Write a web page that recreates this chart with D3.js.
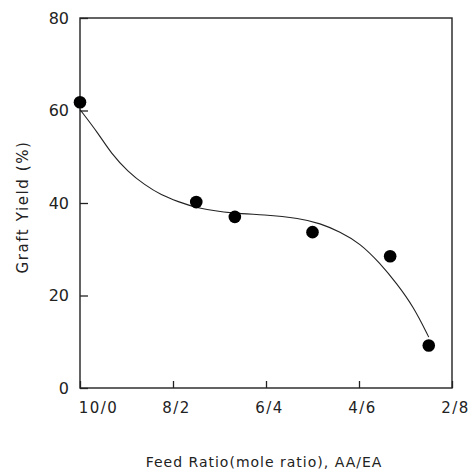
<!DOCTYPE html>
<html>
<head>
<meta charset="utf-8">
<script src="https://cdn.jsdelivr.net/npm/d3@7"></script>
<style>
    body { margin: 0; background: #fff; }
    svg text { font-family: "DejaVu Sans", sans-serif; fill: #222; }
</style>
</head>
<body>
<div id="chart"></div>
<script>
// Measured points: AA mole parts (of 10) and graft yield (%)
const feedAA = [10, 7.5, 6.67, 5, 3.33, 2.5];
const graftYield = [61.8, 40.2, 37.0, 33.7, 28.5, 9.2];

// Fitted curve
const curveAA = [10, 9.61, 9.33, 8.97, 8.61, 8.25, 7.89, 7.5, 6.68, 6.06, 5.27, 4.84, 4.41, 3.98, 3.55, 3.19, 2.83, 2.5];
const curveYield = [60.2, 55.1, 50.7, 46.8, 43.9, 41.7, 40.3, 38.9, 37.7, 37.5, 36.7, 35.6, 33.8, 31.3, 27.0, 22.6, 17.6, 11.0];

// Axis ticks
const xTicks = [10, 8, 6, 4, 2];
const xTickLabels = ['10/0', '8/2', '6/4', '4/6', '2/8'];
const yTicks = [0, 20, 40, 60, 80];

const width = 469, height = 472;
const margin = { top: 18, right: 17, bottom: 84, left: 80 };
const innerW = width - margin.left - margin.right;
const innerH = height - margin.top - margin.bottom;

const svg = d3.select('#chart').append('svg')
    .attr('width', width)
    .attr('height', height);

const g = svg.append('g')
    .attr('transform', `translate(${margin.left},${margin.top})`);

const xScale = d3.scaleLinear().domain([10, 2]).range([0, innerW]);
const yScale = d3.scaleLinear().domain([0, 80]).range([innerH, 0]);

// Frame
g.append('rect')
    .attr('x', 0).attr('y', 0)
    .attr('width', innerW).attr('height', innerH)
    .attr('fill', 'none')
    .attr('stroke', '#222')
    .attr('stroke-width', 1.4);

// Bottom axis, ticks pointing inward
const xAxis = g.append('g')
    .attr('transform', `translate(0,${innerH})`)
    .call(d3.axisBottom(xScale)
        .tickValues(xTicks)
        .tickSizeInner(-7)
        .tickSizeOuter(0)
        .tickPadding(14)
        .tickFormat((d, i) => xTickLabels[i]));
xAxis.select('.domain').remove();
xAxis.selectAll('line').attr('stroke', '#222').attr('stroke-width', 1.3);
xAxis.selectAll('text')
    .attr('font-size', 15)
    .attr('dx', (d, i) => i === 0 ? 18 : 3)
    .style('letter-spacing', '1.5px');

// Left axis, ticks pointing inward
const yAxis = g.append('g')
    .call(d3.axisLeft(yScale)
        .tickValues(yTicks)
        .tickSizeInner(-8)
        .tickSizeOuter(0)
        .tickPadding(10));
yAxis.select('.domain').remove();
yAxis.selectAll('line').attr('stroke', '#222').attr('stroke-width', 1.3);
yAxis.selectAll('text').attr('font-size', 16).attr('dx', -1);

// Axis labels
svg.append('text')
    .attr('x', margin.left + innerW / 2 - 2)
    .attr('y', 467)
    .attr('text-anchor', 'middle')
    .attr('font-size', 14)
    .style('letter-spacing', '1px')
    .text('Feed Ratio(mole ratio), AA/EA');

svg.append('text')
    .attr('transform', 'rotate(-90)')
    .attr('x', -(margin.top + innerH / 2 + 4))
    .attr('y', 28)
    .attr('text-anchor', 'middle')
    .attr('font-size', 15)
    .style('letter-spacing', '1.6px')
    .text('Graft Yield (%)');

// Fitted curve
const curveData = curveAA.map((a, i) => ({ aa: a, y: curveYield[i] }));
const line = d3.line()
    .x(d => xScale(d.aa))
    .y(d => yScale(d.y))
    .curve(d3.curveBasis);

g.append('path')
    .datum(curveData)
    .attr('d', line)
    .attr('fill', 'none')
    .attr('stroke', '#222')
    .attr('stroke-width', 1.1);

// Data points
const points = feedAA.map((a, i) => ({ aa: a, y: graftYield[i] }));
g.selectAll('.pt')
    .data(points)
    .enter()
    .append('circle')
    .attr('class', 'pt')
    .attr('cx', d => xScale(d.aa))
    .attr('cy', d => yScale(d.y))
    .attr('r', 6.3)
    .attr('fill', '#000');
</script>
</body>
</html>
